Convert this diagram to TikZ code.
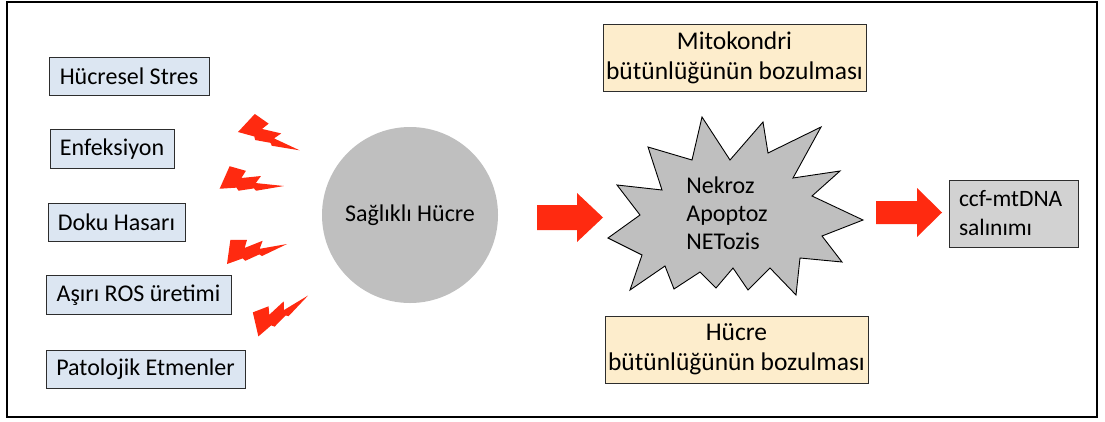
\documentclass[tikz,border=0pt]{standalone}
\usepackage{fontspec}
\setmainfont{Carlito}
\definecolor{boxblue}{RGB}{220,230,242}
\definecolor{boxbeige}{RGB}{253,237,204}
\definecolor{cellgray}{RGB}{191,191,191}
\definecolor{ccfgray}{RGB}{210,210,210}
\definecolor{boltred}{RGB}{255,42,16}
\definecolor{edgegray}{RGB}{45,45,45}
\begin{document}
\begin{tikzpicture}[x=1pt,y=-1pt,
  txt/.style={font=\fontsize{24}{29}\selectfont},
  cause/.style={txt, draw=edgegray, line width=0.9pt, fill=boxblue, minimum height=38.5pt, inner sep=0pt},
  effect/.style={font=\fontsize{25.5}{30}\selectfont, draw=edgegray, line width=0.9pt, fill=boxbeige, minimum width=263pt, minimum height=67pt, inner sep=0pt, align=center},
  bolt/.style={fill=boltred},
  blockarrow/.style={fill=boltred}]
\useasboundingbox (0,0) rectangle (1105,421);
\draw[line width=1.3pt] (7,2) rectangle (1097,417);

% causes
\node[cause, minimum width=160pt] (c1) at (129,76.5) {Hücresel Stres};
\node[cause, minimum width=124pt] (c2) at (112,149) {Enfeksiyon};
\node[cause, minimum width=137pt] (c3) at (116.5,222.5) {Doku Hasarı};
\node[cause, minimum width=185pt] (c4) at (138.5,295) {Aşırı ROS üretimi};
\node[cause, minimum width=199pt] (c5) at (145.5,369.5) {Patolojik Etmenler};

% lightning bolts
\foreach \sx/\sy/\ang/\len in {245/122/-35/61, 223/177/-16/61, 227/252/0/60, 254/325/21/61}{
  \fill[bolt, shift={(\sx,\sy)}, rotate=\ang, scale=\len, yscale=1.2]
    (0.056,-0.167) -- (0.333,-0.167) -- (0.294,-0.056) -- (0.594,-0.156) -- (0.544,-0.044)
    -- (1.0,-0.111) -- (0.583,0.056) -- (0.539,0.033) -- (0.306,0.122) -- (0.261,0.089)
    -- (0,0.167) -- cycle;
}

% healthy cell
\node[circle, fill=cellgray, minimum size=176pt, inner sep=0pt, txt] (cell) at (410,215) {Sağlıklı Hücre};

% arrow 1
\fill[blockarrow] (537,205) -- (577,205) -- (577,193) -- (603,217.5) -- (577,242) -- (577,230) -- (537,230) -- cycle;

% starburst
\filldraw[fill=cellgray, draw=black, line width=0.9pt]
  (648,147) -- (692,160) -- (702,117) -- (730,160) -- (763,122) -- (768,153)
  -- (821,127) -- (793,178) -- (840,171) -- (812,196) -- (863,220) -- (822,236)
  -- (842,262) -- (800,258) -- (796,295) -- (770,268) -- (748,290) -- (733,268)
  -- (716,288) -- (700,272) -- (674,289) -- (665,266) -- (630,290) -- (642,255)
  -- (608,238) -- (640,215) -- (617,185) -- (662,190) -- cycle;
\node[font=\fontsize{24}{28}\selectfont, align=left] (burst) at (727,213) {Nekroz\\Apoptoz\\NETozis};

% effects
\node[effect] (mito) at (734.5,57.5) {Mitokondri\\bütünlüğünün bozulması};
\node[effect] (hucre) at (736.5,349.5) {Hücre\\bütünlüğünün bozulması};

% arrow 2
\fill[blockarrow] (876,201) -- (917,201) -- (917,188) -- (942,212.5) -- (917,237) -- (917,224) -- (876,224) -- cycle;

% release
\node[font=\fontsize{23.5}{29}\selectfont, draw=edgegray, line width=0.9pt, fill=ccfgray, minimum width=129pt, minimum height=67pt, inner sep=0pt, text width=109pt, align=left] (ccf) at (1013.5,213.5) {ccf-mtDNA\\salınımı};
\end{tikzpicture}
\end{document}
